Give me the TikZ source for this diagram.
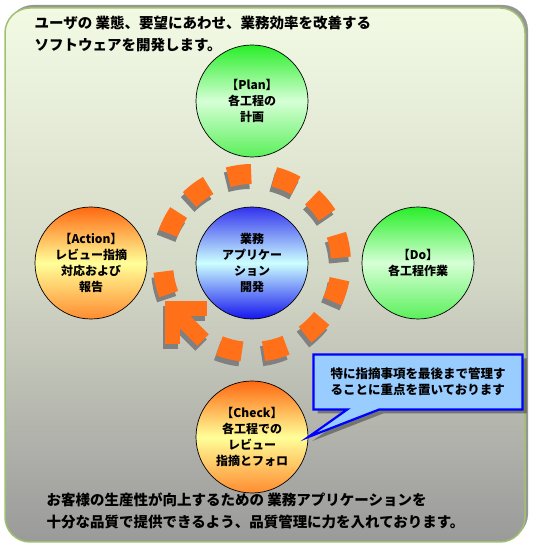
\documentclass[tikz,border=0pt]{standalone}
\usepackage{fontspec}
\newfontfamily\jp{Noto Sans CJK JP}
\usetikzlibrary{
  arrows.meta,
  positioning,
  calc,
  shapes.callouts,
  shadows
}
\definecolor{bgtop}{RGB}{242,250,228}
\definecolor{bgmid}{RGB}{212,216,198}
\definecolor{bgbot}{RGB}{154,154,154}
\definecolor{frameline}{RGB}{160,192,112}
\definecolor{frameshade}{RGB}{150,150,150}
\definecolor{ringorange}{RGB}{255,112,24}
\definecolor{ringshade}{RGB}{128,128,128}
\definecolor{notefill}{RGB}{153,204,255}
\definecolor{noteline}{RGB}{0,0,255}

\begin{document}
\begin{tikzpicture}[
      x=1pt, y=1pt,
      phase/.style={circle, draw=black, line width=0.7pt, minimum size=112pt,
                    inner sep=0pt, align=center,
                    font=\jp\bfseries\fontsize{12}{16}\selectfont},
      greenball/.style={phase, top color={rgb,255:red,40;green,238;blue,40},
                        bottom color={rgb,255:red,90;green,240;blue,90},
                        middle color={rgb,255:red,214;green,255;blue,214}},
      orangeball/.style={phase, top color={rgb,255:red,255;green,104;blue,16},
                         bottom color={rgb,255:red,255;green,140;blue,48},
                         middle color={rgb,255:red,255;green,255;blue,153}},
      blueball/.style={phase, top color={rgb,255:red,50;green,50;blue,238},
                       bottom color={rgb,255:red,20;green,20;blue,238},
                       middle color={rgb,255:red,204;green,255;blue,255}},
      ringseg/.style={line width=20, line cap=butt},
      note/.style={rectangle callout, fill=notefill, draw=noteline, line width=2.2pt,
                   minimum width=209, minimum height=55, callout pointer width=32pt,
                   align=left, font=\jp\bfseries\fontsize{12.5}{16}\selectfont,
                   drop shadow={shadow xshift=4pt, shadow yshift=-4pt,
                                fill=black, opacity=0.35}},
      caption/.style={anchor=west, align=left,
                      font=\jp\bfseries\fontsize{14.5}{21.5}\selectfont}
  ]
      \useasboundingbox (0,0) rectangle (534,551);

      % panel
      \fill[frameshade, rounded corners=25] (8,12) rectangle (528,546);
      \shade[top color=bgtop, bottom color=bgbot, middle color=bgmid,
             draw=frameline, line width=1.5, rounded corners=25]
             (5,9) rectangle (525,543);

      % PDCA circles
      \node[greenball]  (plan)   at (252,450) {【Plan】\\各工程の\\計画};
      \node[blueball]   (hub)    at (252,288) {業務\\アプリケー\\ション\\開発};
      \node[orangeball] (action) at (91,288)  {【Action】\\レビュー指摘\\対応および\\報告};
      \node[greenball]  (do)     at (418,288) {【Do】\\各工程作業};
      \node[orangeball] (check)  at (252,114) {【Check】\\各工程での\\レビュー\\指摘とフォロ};

      % dashed ring with shadow, then the arrow head
      \foreach \dx/\dy/\col in {-2/-5/ringshade, 0/0/ringorange} {
          \foreach \a in {153,127,98,68,40,11,-18,-46,-75,-104,-167}
              \draw[ringseg, \col] ([shift={(\dx,\dy)}]hub.center) ++(\a-7.5:89)
                  arc[start angle=\a-7.5, end angle=\a+7.5, radius=89];
          \begin{scope}[shift={($(hub.center)+(-80+\dx,-46+\dy)$)}, rotate=135]
              \draw[ringseg, \col, line width=15, line join=miter] (-25,25) -- (0,0) -- (-25,-25);
              \draw[ringseg, \col, line width=16] (0,0) -- (-44,0);
          \end{scope}
      }

      % callout to Check
      \node[note, callout absolute pointer={(check.east)}] (memo) at (418,169)
          {特に指摘事項を最後まで管理す\\ることに重点を置いております};

      % texts
      \node[caption] (head) at (31,517)
          {ユーザの 業態、要望にあわせ、業務効率を改善する\\ソフトウェアを開発します。};
      \node[caption] (foot) at (43,40)
          {お客様の生産性が向上するための 業務アプリケーションを\\十分な品質で提供できるよう、品質管理に力を入れております。};
  \end{tikzpicture}
\end{document}
